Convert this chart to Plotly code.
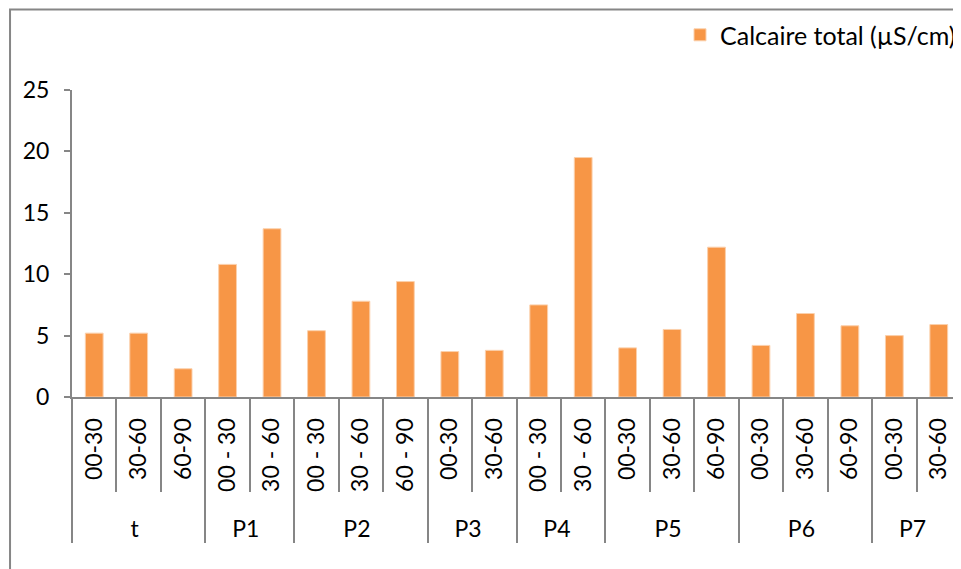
import plotly.graph_objects as go

# profile groups and depth classes (cm)
groups = ["t", "t", "t", "P1", "P1", "P2", "P2", "P2", "P3", "P3",
          "P4", "P4", "P5", "P5", "P5", "P6", "P6", "P6", "P7", "P7"]
depths = ["00-30", "30-60", "60-90", "00 - 30", "30 - 60",
          "00 - 30", "30 - 60", "60 - 90", "00-30", "30-60",
          "00 - 30", "30 - 60", "00-30", "30-60", "60-90",
          "00-30", "30-60", "60-90", "00-30", "30-60"]
calcaire = [5.2, 5.2, 2.3, 10.8, 13.7, 5.4, 7.8, 9.4, 3.7, 3.8,
            7.5, 19.5, 4.0, 5.5, 12.2, 4.2, 6.8, 5.8, 5.0, 5.9]

font = dict(family="Lato, Open Sans, sans-serif", size=23, color="black")
axis_grey = "#868686"

# invisible padding at the start of the rotated labels pushes the group row lower
depth_labels = ["\u00a0\u00a0" + d for d in depths]

fig = go.Figure()
fig.add_trace(go.Bar(
    x=[groups, depth_labels],
    y=calcaire,
    name="Calcaire total (µS/cm)",
    marker=dict(color="#F79646", line=dict(color="#FBD0AC", width=1)),
    width=0.4,
))

fig.update_xaxes(
    type="multicategory",
    tickangle=-90,
    showline=True, linecolor=axis_grey, linewidth=2,
    ticks="outside", tickson="boundaries", ticklen=93, tickwidth=2, tickcolor=axis_grey,
    showdividers=True, dividercolor=axis_grey, dividerwidth=2,
    showgrid=False,
    tickfont=font, ticklabelstandoff=10,
    automargin=False,
)
fig.update_yaxes(
    range=[0, 25], dtick=5,
    showline=True, linecolor=axis_grey, linewidth=2,
    ticks="outside", ticklen=6, tickwidth=2, tickcolor=axis_grey,
    showgrid=False, zeroline=False,
    tickfont=font, ticklabelstandoff=10,
    automargin=False,
)

# outer chart frame (Excel chart area border)
fig.add_shape(type="rect", xref="paper", yref="paper",
              x0=-0.0697, x1=1.05, y0=-0.6, y1=1.262,
              line=dict(color=axis_grey, width=2), layer="below")

# page body adds 8px offset, so the figure is 8px smaller than the window
fig.update_layout(
    width=953, height=561,
    margin=dict(l=64, r=0, t=82, b=172),
    paper_bgcolor="white", plot_bgcolor="white",
    font=font,
    showlegend=True,
    legend=dict(x=1.0, xanchor="right", y=1.179, yanchor="middle",
                font=dict(font, size=25), bgcolor="rgba(0,0,0,0)", itemwidth=30,
                borderwidth=0),
)

fig.write_html("out.html")
